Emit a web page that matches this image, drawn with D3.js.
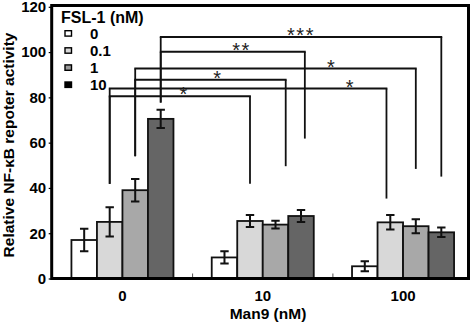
<!DOCTYPE html>
<html>
<head>
<meta charset="utf-8">
<script src="https://cdn.jsdelivr.net/npm/d3@7"></script>
<style>
  html, body { margin: 0; padding: 0; background: #fff; }
  svg { display: block; font-family: "Liberation Sans", Arial, sans-serif; }
</style>
</head>
<body>
<svg id="chart" width="474" height="324"></svg>
<script>
// ---- data ----
const groups = ["0", "10", "100"];                 // Man9 (nM)
const series = ["0", "0.1", "1", "10"];            // FSL-1 (nM)
const values = [
  [17.0, 25.0, 39.0, 70.5],
  [9.3, 25.4, 23.8, 27.6],
  [5.4, 24.8, 23.1, 20.4]
];
const errors = [
  [5.0, 6.5, 5.0, 4.0],
  [2.7, 2.7, 1.7, 2.7],
  [2.2, 3.2, 3.1, 2.1]
];
const yTicks = [0, 20, 40, 60, 80, 100, 120];
const barColors = ["#ffffff", "#d8d8d8", "#a8a8a8", "#656565"];
const legendColors = ["#ffffff", "#d8d8d8", "#9a9a9a", "#000000"];
// significance brackets: from/to [group, series], level and line ends in data units
const brackets = [
  { from: ["0", "10"], to: ["100", "10"], level: 106.7, fromEnd: 77.7, toEnd: 45.0, label: "***", at: 0.50, shift: 0 },
  { from: ["0", "10"], to: ["10", "10"],  level: 100.1, fromEnd: 77.7, toEnd: 61.8, label: "**",  at: 0.56, shift: 0.15 },
  { from: ["0", "1"],  to: ["100", "1"],  level: 92.7,  fromEnd: 54.0, toEnd: 48.4, label: "*",   at: 0.70, shift: 0 },
  { from: ["0", "1"],  to: ["10", "1"],   level: 87.8,  fromEnd: 54.0, toEnd: 49.6, label: "*",   at: 0.55, shift: 0.4 },
  { from: ["0", "0.1"], to: ["100", "0.1"], level: 83.9, fromEnd: 41.8, toEnd: 35.3, label: "*",  at: 0.87, shift: -0.15 },
  { from: ["0", "0.1"], to: ["10", "0.1"],  level: 80.5, fromEnd: 41.8, toEnd: 41.8, label: "*",  at: 0.53, shift: 0 }
];

// ---- layout ----
const svg = d3.select("#chart");
const mLeft = 51.7, mRight = 468.5, mTop = 5.5, mBottom = 278.5;

const y = d3.scaleLinear().domain([0, 120]).range([mBottom, 6.8]);
const x0 = d3.scaleBand().domain(groups).range([52.3, 473.2]).paddingInner(0).paddingOuter(0);
const x1 = d3.scaleBand().domain(series).range([0, x0.bandwidth()]).paddingInner(0).paddingOuter(0.75);
const cx = (g, s) => x0(g) + x1(s) + x1.bandwidth() / 2;

// bars
const gGroups = svg.append("g").selectAll("g").data(groups).join("g")
  .attr("transform", g => `translate(${x0(g)},0)`);

gGroups.selectAll("rect").data((g, gi) => series.map((s, si) => ({ s, si, v: values[gi][si] })))
  .join("rect")
  .attr("x", d => x1(d.s))
  .attr("y", d => y(d.v))
  .attr("width", x1.bandwidth())
  .attr("height", d => y(0) - y(d.v))
  .attr("fill", d => barColors[d.si])
  .attr("stroke", "#111")
  .attr("stroke-width", 1.8);

// error bars
gGroups.each(function (g, gi) {
  const sel = d3.select(this);
  series.forEach((s, si) => {
    const c = x1(s) + x1.bandwidth() / 2;
    const v = values[gi][si], e = errors[gi][si];
    const p = d3.path();
    p.moveTo(c, y(v + e)); p.lineTo(c, y(v - e));
    p.moveTo(c - 4.2, y(v + e)); p.lineTo(c + 4.2, y(v + e));
    p.moveTo(c - 4.2, y(v - e)); p.lineTo(c + 4.2, y(v - e));
    sel.append("path").attr("d", p.toString())
      .attr("stroke", "#111").attr("stroke-width", 2).attr("fill", "none");
  });
});

// brackets
const bg = svg.append("g");
brackets.forEach(b => {
  const xa = cx(b.from[0], b.from[1]);
  const xb = cx(b.to[0], b.to[1]) + b.shift * x1.bandwidth();
  const yl = y(b.level);
  bg.append("line").attr("x1", xa).attr("x2", xa).attr("y1", yl).attr("y2", y(b.fromEnd))
    .attr("stroke", "#111").attr("stroke-width", 1.8);
  bg.append("line").attr("x1", xb).attr("x2", xb).attr("y1", yl).attr("y2", y(b.toEnd))
    .attr("stroke", "#111").attr("stroke-width", 1.8);
  bg.append("line").attr("x1", xa - 0.9).attr("x2", xb + 0.9).attr("y1", yl).attr("y2", yl)
    .attr("stroke", "#111").attr("stroke-width", 2);
  bg.append("text")
    .attr("x", xa + (xb - xa) * b.at)
    .attr("y", yl + 5)
    .attr("text-anchor", "middle")
    .attr("font-size", 20)
    .attr("letter-spacing", 1.5)
    .attr("fill", "#222")
    .text(b.label);
});

// y axis
const yAxis = d3.axisLeft(y).tickValues(yTicks).tickSize(3).tickPadding(2.5).tickFormat(d3.format("d"));
const ya = svg.append("g").attr("transform", `translate(${mLeft},0)`).call(yAxis);
ya.select(".domain").remove();
ya.selectAll("line").attr("stroke", "#000").attr("stroke-width", 1.2);
ya.selectAll("text").attr("font-size", 15).attr("font-weight", "bold").attr("fill", "#000")
  .attr("font-family", "'Liberation Sans', Arial, sans-serif");

// x axis (inward ticks at group boundaries)
const xAxis = d3.axisBottom(x0).tickSize(0).tickPadding(12);
const xa = svg.append("g").attr("transform", `translate(0,${mBottom})`).call(xAxis);
xa.select(".domain").remove();
xa.selectAll("text").attr("font-size", 15).attr("font-weight", "bold").attr("fill", "#000")
  .attr("font-family", "'Liberation Sans', Arial, sans-serif");
svg.append("g").selectAll("line").data(groups.slice(1)).join("line")
  .attr("x1", g => x0(g)).attr("x2", g => x0(g))
  .attr("y1", mBottom).attr("y2", mBottom - 5)
  .attr("stroke", "#555").attr("stroke-width", 1);

// frame
svg.append("rect").attr("x", mLeft).attr("y", mTop).attr("width", mRight - mLeft).attr("height", mBottom - mTop)
  .attr("fill", "none").attr("stroke", "#000").attr("stroke-width", 3);

// axis titles
svg.append("text").attr("x", 268).attr("y", 318.5).attr("text-anchor", "middle")
  .attr("font-size", 15.5).attr("font-weight", "bold").text("Man9 (nM)");
svg.append("text").attr("transform", "translate(13.5,145) rotate(-90)").attr("text-anchor", "middle")
  .attr("font-size", 15.5).attr("font-weight", "bold").text("Relative NF-κB repoter activity");

// legend
const lg = svg.append("g");
lg.append("text").attr("x", 61).attr("y", 22.5).attr("font-size", 16).attr("font-weight", "bold")
  .text("FSL-1 (nM)");
series.forEach((s, i) => {
  const cy = 33.4 + i * 17.1;
  lg.append("rect").attr("x", 65).attr("y", cy - 2.7).attr("width", 6.5).attr("height", 5.4)
    .attr("fill", legendColors[i]).attr("stroke", "#000").attr("stroke-width", 1.4);
  lg.append("text").attr("x", 90).attr("y", cy + 5.2).attr("font-size", 15).attr("font-weight", "bold")
    .text(s);
});
</script>
</body>
</html>
